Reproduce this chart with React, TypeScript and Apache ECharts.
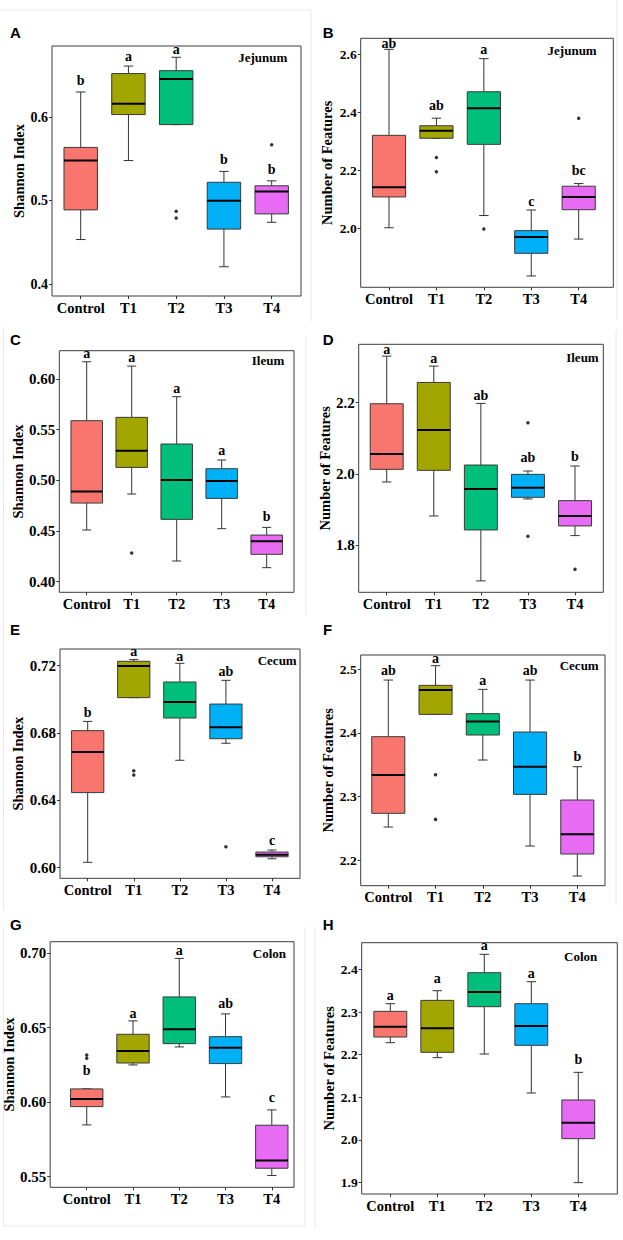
import React, { useEffect, useRef } from "react";
import * as echarts from "echarts";

// ---------- data ----------
const CATEGORIES = ["Control", "T1", "T2", "T3", "T4"];
const GROUP_COLORS = ["#F8766D", "#A3A500", "#00BF7D", "#00B0F6", "#E76BF3"];

// each row: [min, Q1, median, Q3, max]
const jejunumShannon = [
  [0.4535, 0.489, 0.548, 0.5637, 0.63],
  [0.548, 0.603, 0.616, 0.652, 0.661],
  [0.591, 0.591, 0.6455, 0.6555, 0.6715],
  [0.421, 0.466, 0.5, 0.522, 0.535],
  [0.4742, 0.4842, 0.511, 0.5178, 0.5237],
];
const jejunumShannonOutliers = [["T2", 0.4874], ["T2", 0.4794], ["T4", 0.567]];
const jejunumShannonLetters = ["b", "a", "a", "b", "b"];
const jejunumShannonLetterY = [0.644, 0.672, 0.681, 0.549, 0.537];

const jejunumFeatures = [
  [2.003, 2.109, 2.142, 2.321, 2.617],
  [2.311, 2.311, 2.337, 2.354, 2.38],
  [2.045, 2.29, 2.414, 2.471, 2.585],
  [1.837, 1.915, 1.971, 1.993, 2.064],
  [1.964, 2.065, 2.109, 2.146, 2.155],
];
const jejunumFeaturesOutliers = [["T1", 2.245], ["T1", 2.196], ["T2", 1.999], ["T4", 2.38]];
const jejunumFeaturesLetters = ["ab", "ab", "a", "c", "bc"];
const jejunumFeaturesLetterY = [2.638, 2.422, 2.617, 2.093, 2.2];

const ileumShannon = [
  [0.451, 0.4776, 0.4891, 0.5589, 0.6171],
  [0.4865, 0.5128, 0.5293, 0.5622, 0.6128],
  [0.4204, 0.4615, 0.5003, 0.5359, 0.5826],
  [0.4523, 0.4822, 0.4993, 0.5115, 0.5201],
  [0.4138, 0.427, 0.4398, 0.446, 0.4536],
];
const ileumShannonOutliers = [["T1", 0.4283]];
const ileumShannonLetters = ["a", "a", "a", "a", "b"];
const ileumShannonLetterY = [0.6253, 0.6214, 0.5908, 0.5293, 0.4641];

const ileumFeatures = [
  [1.9776, 2.0131, 2.0561, 2.1972, 2.3308],
  [1.8822, 2.0103, 2.1234, 2.257, 2.3028],
  [1.7, 1.843, 1.958, 2.0252, 2.1981],
  [1.93, 1.9346, 1.9617, 1.999, 2.0084],
  [1.8271, 1.8542, 1.8822, 1.9252, 2.0224],
];
const ileumFeaturesOutliers = [["T3", 2.1439], ["T3", 1.8252], ["T4", 1.7327]];
const ileumFeaturesLetters = ["a", "a", "ab", "ab", "b"];
const ileumFeaturesLetterY = [2.3495, 2.3243, 2.2215, 2.0467, 2.0486];

const cecumShannon = [
  [0.6032, 0.6446, 0.6687, 0.6814, 0.6869],
  [0.701, 0.701, 0.7198, 0.7226, 0.7236],
  [0.6638, 0.6889, 0.6984, 0.7103, 0.7214],
  [0.6739, 0.6766, 0.6834, 0.6972, 0.7113],
  [0.6053, 0.6065, 0.6077, 0.6093, 0.6105],
];
const cecumShannonOutliers = [["T1", 0.6576], ["T1", 0.655], ["T3", 0.6125]];
const cecumShannonLetters = ["b", "a", "a", "ab", "c"];
const cecumShannonLetterY = [0.6923, 0.7287, 0.7257, 0.7164, 0.6164];

const cecumFeatures = [
  [2.2522, 2.2737, 2.3338, 2.3939, 2.4827],
  [2.4289, 2.4289, 2.4671, 2.4744, 2.5052],
  [2.3573, 2.3965, 2.4179, 2.43, 2.4681],
  [2.2224, 2.3034, 2.3468, 2.4012, 2.4827],
  [2.1754, 2.2099, 2.2407, 2.2946, 2.3468],
];
const cecumFeaturesOutliers = [["T1", 2.3343], ["T1", 2.2642]];
const cecumFeaturesLetters = ["ab", "a", "a", "ab", "b"];
const cecumFeaturesLetterY = [2.4974, 2.5167, 2.4827, 2.4974, 2.3625];

const colonShannon = [
  [0.5847, 0.597, 0.6022, 0.6089, 0.6089],
  [0.625, 0.6263, 0.6344, 0.6456, 0.6546],
  [0.6371, 0.6393, 0.649, 0.6707, 0.6966],
  [0.6035, 0.6259, 0.6366, 0.644, 0.6593],
  [0.5507, 0.5556, 0.5608, 0.5845, 0.5948],
];
const colonShannonOutliers = [["Control", 0.6317], ["Control", 0.6295]];
const colonShannonLetters = ["b", "a", "a", "ab", "c"];
const colonShannonLetterY = [0.621, 0.6593, 0.7018, 0.666, 0.6033];

const colonFeatures = [
  [2.2281, 2.2414, 2.2656, 2.3016, 2.3195],
  [2.193, 2.2055, 2.2617, 2.3273, 2.35],
  [2.2016, 2.3125, 2.3469, 2.3922, 2.4352],
  [2.1102, 2.2219, 2.2672, 2.3195, 2.3711],
  [1.9, 2.0031, 2.0406, 2.0938, 2.1586],
];
const colonFeaturesOutliers: [string, number][] = [];
const colonFeaturesLetters = ["a", "a", "a", "a", "b"];
const colonFeaturesLetterY = [2.339, 2.3789, 2.457, 2.3906, 2.1898];

const TICKS_A = [0.4, 0.5, 0.6];
const TICKS_B = [2.0, 2.2, 2.4, 2.6];
const TICKS_C = [0.4, 0.45, 0.5, 0.55, 0.6];
const TICKS_D = [1.8, 2.0, 2.2];
const TICKS_E = [0.6, 0.64, 0.68, 0.72];
const TICKS_F = [2.2, 2.3, 2.4, 2.5];
const TICKS_G = [0.55, 0.6, 0.65, 0.7];
const TICKS_H = [1.9, 2.0, 2.1, 2.2, 2.3, 2.4];

// ---------- layout ----------
const SERIF = '"Liberation Serif", "Times New Roman", serif';
const SANS = '"Liberation Sans", Arial, sans-serif';

const PANELS = [
  { tag: "A", organ: "Jejunum", yName: "Shannon Index", stats: jejunumShannon, outliers: jejunumShannonOutliers, letters: jejunumShannonLetters, letterY: jejunumShannonLetterY, ticks: TICKS_A, dec: 1, tickFont: 14,
    frame: [52, 46, 249, 250], xr: [0.399, 5.614], yr: [0.386, 0.685], nameGap: 26, organPos: [287.3, 57.3], tagPos: [10, 32.5] },
  { tag: "B", organ: "Jejunum", yName: "Number of Features", stats: jejunumFeatures, outliers: jejunumFeaturesOutliers, letters: jejunumFeaturesLetters, letterY: jejunumFeaturesLetterY, ticks: TICKS_B, dec: 1, tickFont: 13.5,
    frame: [360.7, 38.3, 252.6, 249], xr: [0.403, 5.73], yr: [1.798, 2.655], nameGap: 26, organPos: [596.7, 50], tagPos: [322.7, 32.5] },
  { tag: "C", organ: "Ileum", yName: "Shannon Index", stats: ileumShannon, outliers: ileumShannonOutliers, letters: ileumShannonLetters, letterY: ileumShannonLetterY, ticks: TICKS_C, dec: 2, tickFont: 15,
    frame: [59.3, 350.7, 234.7, 241.6], xr: [0.391, 5.607], yr: [0.3895, 0.628], nameGap: 32, organPos: [284.3, 360], tagPos: [10, 339.5] },
  { tag: "D", organ: "Ileum", yName: "Number of Features", stats: ileumFeatures, outliers: ileumFeaturesOutliers, letters: ileumFeaturesLetters, letterY: ileumFeaturesLetterY, ticks: TICKS_D, dec: 1, tickFont: 15,
    frame: [358.7, 344.3, 244.6, 248], xr: [0.405, 5.601], yr: [1.668, 2.364], nameGap: 26, organPos: [598.7, 357.3], tagPos: [322.7, 339.5] },
  { tag: "E", organ: "Cecum", yName: "Shannon Index", stats: cecumShannon, outliers: cecumShannonOutliers, letters: cecumShannonLetters, letterY: cecumShannonLetterY, ticks: TICKS_E, dec: 2, tickFont: 15,
    frame: [60, 649, 240, 229.3], xr: [0.399, 5.608], yr: [0.5937, 0.7299], nameGap: 33, organPos: [296.7, 660], tagPos: [10, 629.7] },
  { tag: "F", organ: "Cecum", yName: "Number of Features", stats: cecumFeatures, outliers: cecumFeaturesOutliers, letters: cecumFeaturesLetters, letterY: cecumFeaturesLetterY, ticks: TICKS_F, dec: 1, tickFont: 13.5,
    frame: [360.7, 655, 244.3, 230.7], xr: [0.416, 5.586], yr: [2.1602, 2.522], nameGap: 25.5, organPos: [598.7, 665], tagPos: [323, 629.7] },
  { tag: "G", organ: "Colon", yName: "Shannon Index", stats: colonShannon, outliers: colonShannonOutliers, letters: colonShannonLetters, letterY: colonShannonLetterY, ticks: TICKS_G, dec: 2, tickFont: 15,
    frame: [49.3, 941.7, 244.7, 245.6], xr: [0.209, 5.48], yr: [0.5428, 0.7078], nameGap: 23, organPos: [286, 953.3], tagPos: [10, 924.6] },
  { tag: "H", organ: "Colon", yName: "Number of Features", stats: colonFeatures, outliers: colonFeaturesOutliers, letters: colonFeaturesLetters, letterY: colonFeaturesLetterY, ticks: TICKS_H, dec: 1, tickFont: 13.5,
    frame: [361.7, 942.7, 255.6, 251.3], xr: [0.391, 5.83], yr: [1.8734, 2.4625], nameGap: 25.5, organPos: [597.3, 956.7], tagPos: [322.7, 924.6] },
];

const FAINT = [
  [0, 10, 311, 10], [311, 10, 311, 322], [617, 0, 617, 320],
  [306, 337, 306, 615], [3.5, 327, 3.5, 910], [616, 330, 616, 905],
  [3.5, 927, 3.5, 1226], [3.5, 1226, 305, 1226], [305, 927, 305, 1226], [315, 927, 315, 1228],
];

function buildOption() {
  const grid: any[] = [];
  const xAxis: any[] = [];
  const yAxis: any[] = [];
  const series: any[] = [];
  const graphic: any[] = [];

  PANELS.forEach((p, k) => {
    const [l, t, w, h] = p.frame;
    grid.push({ left: l, top: t, width: w, height: h, show: true, borderColor: "#3c3c3c", borderWidth: 1, backgroundColor: "transparent", containLabel: false });
    xAxis.push({
      gridIndex: k, type: "value", min: p.xr[0], max: p.xr[1],
      axisLine: { show: false }, splitLine: { show: false },
      axisTick: { show: true, customValues: [1, 2, 3, 4, 5], length: 3, lineStyle: { color: "#333", width: 1 } },
      axisLabel: { customValues: [1, 2, 3, 4, 5], formatter: (v: number) => CATEGORIES[Math.round(v) - 1] || "", fontFamily: SERIF, fontWeight: "bold", fontSize: 14.5, color: "#000", margin: 4 },
    });
    yAxis.push({
      gridIndex: k, type: "value", min: p.yr[0], max: p.yr[1],
      name: p.yName, nameLocation: "middle", nameGap: p.nameGap,
      nameTextStyle: { fontFamily: SERIF, fontWeight: "bold", fontSize: 14.5, color: "#000" },
      axisLine: { show: false }, splitLine: { show: false },
      axisTick: { show: true, customValues: p.ticks, length: 3, lineStyle: { color: "#333", width: 1 } },
      axisLabel: { customValues: p.ticks, formatter: (v: number) => v.toFixed(p.dec), fontFamily: SERIF, fontWeight: "bold", fontSize: p.tickFont, color: "#000", margin: 4 },
    });

    series.push({
      type: "custom", xAxisIndex: k, yAxisIndex: k,
      encode: { x: 0, y: [1, 2, 3, 4, 5] },
      data: p.stats.map((s, i) => [i + 1, ...s]),
      renderItem: (params: any, api: any) => {
        const x = api.value(0);
        const c = (v: number) => api.coord([x, v]);
        const pLo = c(api.value(1));
        const pQ1 = c(api.value(2));
        const pMd = c(api.value(3));
        const pQ3 = c(api.value(4));
        const pHi = c(api.value(5));
        const cx = pMd[0];
        const hb = api.size([0.7, 0])[0] / 2;
        const hc = api.size([0.2, 0])[0] / 2;
        const ls = { stroke: "#333", lineWidth: 1 };
        return {
          type: "group",
          children: [
            { type: "line", shape: { x1: cx, y1: pHi[1], x2: cx, y2: pQ3[1] }, style: ls },
            { type: "line", shape: { x1: cx, y1: pQ1[1], x2: cx, y2: pLo[1] }, style: ls },
            { type: "line", shape: { x1: cx - hc, y1: pHi[1], x2: cx + hc, y2: pHi[1] }, style: ls },
            { type: "line", shape: { x1: cx - hc, y1: pLo[1], x2: cx + hc, y2: pLo[1] }, style: ls },
            { type: "rect", shape: { x: cx - hb, y: pQ3[1], width: hb * 2, height: pQ1[1] - pQ3[1] }, style: { fill: GROUP_COLORS[params.dataIndex], stroke: "#3a3a3a", lineWidth: 1 } },
            { type: "line", shape: { x1: cx - hb, y1: pMd[1], x2: cx + hb, y2: pMd[1] }, style: { stroke: "#000", lineWidth: 2 } },
          ],
        };
      },
    });

    series.push({
      type: "scatter", xAxisIndex: k, yAxisIndex: k, symbol: "circle", symbolSize: 3.5,
      itemStyle: { color: "#000" },
      data: p.outliers.map(([cat, v]) => [CATEGORIES.indexOf(cat as string) + 1, v]),
    });

    series.push({
      type: "custom", xAxisIndex: k, yAxisIndex: k,
      encode: { x: 0, y: 1 },
      data: p.letterY.map((v, i) => [i + 1, v]),
      renderItem: (params: any, api: any) => {
        const pt = api.coord([api.value(0), api.value(1)]);
        return {
          type: "text", x: pt[0], y: pt[1],
          style: { text: p.letters[params.dataIndex], fontFamily: SERIF, fontWeight: "bold", fontSize: 14, fill: "#000", align: "center", verticalAlign: "middle" },
        };
      },
    });

    graphic.push({
      type: "text", x: p.organPos[0], y: p.organPos[1],
      style: { text: p.organ, fontFamily: SERIF, fontWeight: "bold", fontSize: 13, fill: "#000", align: "right", verticalAlign: "middle" },
    });
    graphic.push({
      type: "text", x: p.tagPos[0], y: p.tagPos[1],
      style: { text: p.tag, fontFamily: SANS, fontWeight: "bold", fontSize: 15, fill: "#000", align: "left", verticalAlign: "middle" },
    });
  });

  FAINT.forEach(([x1, y1, x2, y2]) => {
    graphic.push({ type: "line", shape: { x1, y1, x2, y2 }, style: { stroke: "#e8e8e8", lineWidth: 1 }, silent: true });
  });

  return {
    animation: false,
    backgroundColor: "#fff",
    textStyle: { fontFamily: SERIF, fontWeight: "bold", color: "#000" },
    grid, xAxis, yAxis, series, graphic,
  };
}

export default function App() {
  const ref = useRef<HTMLDivElement>(null);
  useEffect(() => {
    if (!ref.current) return;
    const chart = echarts.init(ref.current, null, { renderer: "svg" });
    chart.setOption(buildOption() as any);
    return () => chart.dispose();
  }, []);
  return <div ref={ref} style={{ position: "absolute", left: 0, top: 0, width: 623, height: 1240 }} />;
}
